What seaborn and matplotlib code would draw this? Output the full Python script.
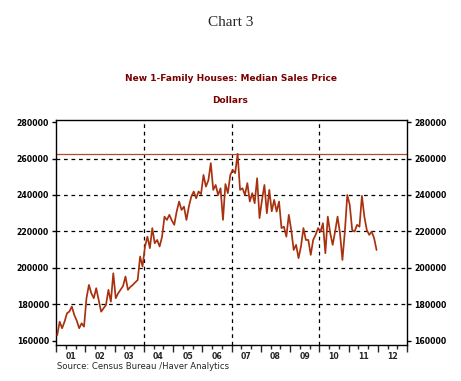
import numpy as np
import pandas as pd
import matplotlib
matplotlib.use("Agg")
import matplotlib.pyplot as plt
import matplotlib.transforms as mtransforms
import seaborn as sns

# New 1-family houses, median sales price (dollars), monthly Jan 2001 - Dec 2011
price_2001 = [163000, 170400, 166800, 170400, 175000, 176000, 178700, 174100, 171000, 166800, 169500, 167700]
price_2002 = [183300, 190600, 186000, 183300, 188800, 182400, 175900, 177800, 179600, 187900, 181400, 197000]
price_2003 = [183300, 186000, 188000, 190000, 195200, 187900, 189500, 190600, 192000, 193300, 206200, 200700]
price_2004 = [211700, 217100, 210800, 221800, 213500, 215300, 211700, 217000, 228100, 226300, 229100, 226000]
price_2005 = [223600, 230900, 236400, 231800, 233600, 226300, 233600, 239100, 241900, 238200, 241900, 240500]
price_2006 = [251000, 244600, 248000, 257500, 242800, 245500, 240000, 243700, 226300, 246000, 241000, 251000]
price_2007 = [253800, 252000, 262600, 242800, 243700, 240000, 246500, 236400, 241000, 235500, 249200, 227300]
price_2008 = [237300, 245500, 230000, 242800, 231000, 237300, 230900, 236400, 221800, 222600, 217100, 229100]
price_2009 = [220800, 209800, 212600, 205300, 211700, 221800, 215300, 215300, 207100, 215300, 218100, 221800]
price_2010 = [219900, 224500, 208000, 228100, 219000, 212600, 219900, 228100, 219000, 204300, 219900, 240000]
price_2011 = [234600, 220800, 219900, 223600, 222600, 239500, 228100, 220800, 218100, 219900, 216300, 209800]

year_labels = ["01", "02", "03", "04", "05", "06", "07", "08", "09", "10", "11", "12"]
y_ticks = [160000, 180000, 200000, 220000, 240000, 260000, 280000]

prices = (price_2001 + price_2002 + price_2003 + price_2004 + price_2005 + price_2006
          + price_2007 + price_2008 + price_2009 + price_2010 + price_2011)
months = pd.date_range("2001-01-01", periods=len(prices), freq="MS")
df = pd.DataFrame({"t": months.year + (months.month - 0.5) / 12, "price": prices})

sns.set_style("white")
plt.rcParams["font.family"] = ["DejaVu Sans"]

line_col = "#A8320F"
title_col = "#7A0000"

fig = plt.figure(figsize=(4.61, 3.81), dpi=100)
ax = fig.add_axes([0.1215, 0.0945, 0.7614, 0.5906])

# grid (dashed black) at selected levels
for yv in y_ticks[1:-1]:
    ax.axhline(yv, color="black", lw=0.9, ls=(0, (3, 3)), zorder=1)
for xv in [2004, 2007, 2010]:
    ax.axvline(xv, color="black", lw=0.9, ls=(0, (3, 3)), zorder=1)

# horizontal line at the series peak
ax.axhline(df["price"].max(), color="#B04A30", lw=0.9, zorder=2)

sns.lineplot(data=df, x="t", y="price", color=line_col, lw=1.25, ax=ax, zorder=3)

ax.set_xlim(2001, 2013)
ax.set_ylim(157600, 281200)
ax.set_xlabel("")
ax.set_ylabel("")

for s in ax.spines.values():
    s.set_color("black")
    s.set_linewidth(1)

ax.set_yticks(y_ticks)
ax.set_yticklabels([str(v) for v in y_ticks], fontweight="bold", fontsize=5.6)
ax.tick_params(axis="y", left=True, right=True, labelleft=True, labelright=True,
               direction="out", length=3, width=1, pad=2, colors="black")

ax.set_xticks(range(2001, 2014))
ax.set_xticklabels([""] * 13)
ax.set_xticks(np.arange(2001, 2013.01, 1 / 3), minor=True)
ax.tick_params(axis="x", which="major", bottom=True, direction="out", length=5, width=1)
ax.tick_params(axis="x", which="minor", bottom=True, direction="out", length=3, width=1)

trans = mtransforms.blended_transform_factory(ax.transData, ax.transAxes)
for i, lab in enumerate(year_labels):
    ax.text(2001 + i + 0.5, -0.052, lab, transform=trans, ha="center", va="center",
            fontsize=5.6, fontweight="bold")

fig.text(0.5, 0.940, "Chart 3", ha="center", va="center", fontsize=11,
         family="Liberation Serif")
fig.text(0.5, 0.793, "New 1-Family Houses: Median Sales Price", ha="center", va="center",
         fontsize=6.5, fontweight="bold", color=title_col)
fig.text(0.5, 0.7375, "Dollars", ha="center", va="center", fontsize=6.5,
         fontweight="bold", color=title_col)
fig.text(0.1236, 0.039, "Source: Census Bureau /Haver Analytics", ha="left", va="center",
         fontsize=6.1)

fig.savefig("out.png", dpi=100)
